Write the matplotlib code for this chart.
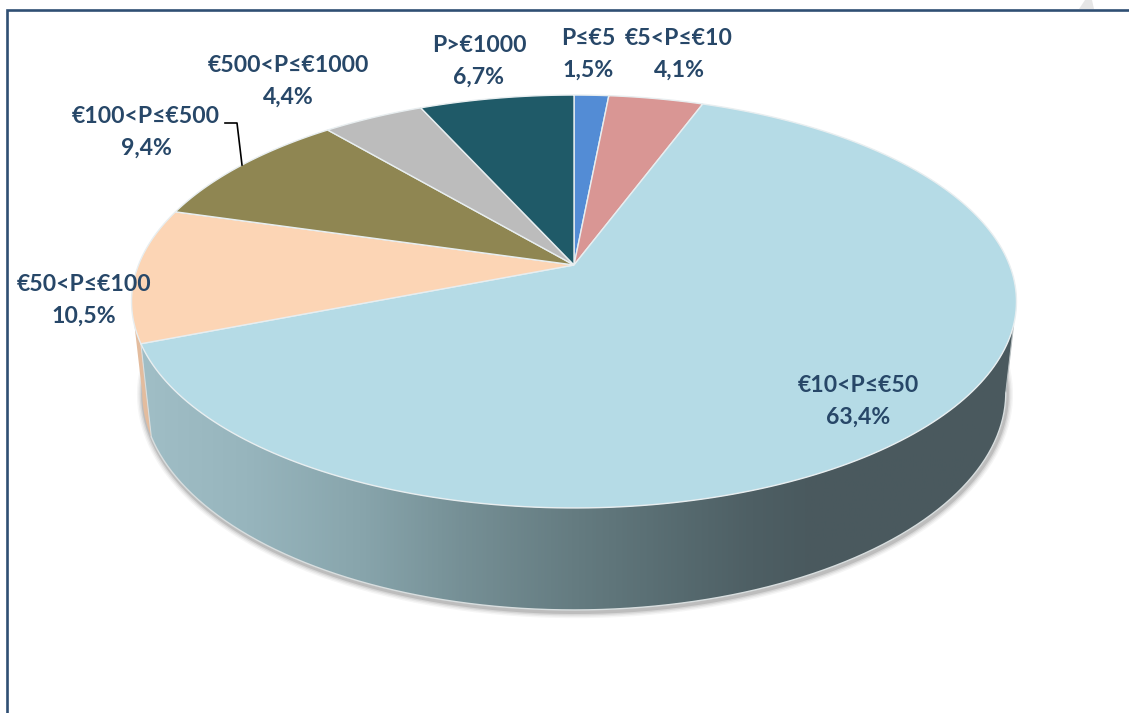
import numpy as np
import matplotlib
matplotlib.use("Agg")
import matplotlib.pyplot as plt
from matplotlib.colors import LinearSegmentedColormap
from matplotlib.patches import Polygon

plt.rcParams['font.family'] = ['Lato', 'DejaVu Sans']

# data, clockwise from twelve o'clock
labels = ['P≤€5', '€5<P≤€10', '€10<P≤€50', '€50<P≤€100', '€100<P≤€500', '€500<P≤€1000', 'P>€1000']
values = [1.5, 4.1, 63.4, 10.5, 9.4, 4.4, 6.7]
colors = ['#538CD5', '#D99694', '#B5DBE6', '#FCD5B5', '#8F8652', '#BCBCBC', '#1F5A68']
label_x = [588, 679, 858, 84, 146, 288, 479]
label_y = [54, 54, 401, 300, 132, 81, 61]

TEXT_COLOR = '#274768'
EDGE = '#E8EEF0'

# perspective parameters of the top face and of the bottom face, in pixels
CX = 574
K = 0.1768
TOP = dict(y0=265, a=435.5, b=200.0)
BOTTOM = dict(y0=354, a=425.0, b=210.7)


def project(theta, face):
    """ Точка окружности (угол в градусах от верха по часовой) на экран. """
    t = np.radians(theta)
    u, v = np.sin(t), -np.cos(t)
    w = 1 - K * v
    return CX + face['a'] * u / w, face['y0'] + face['b'] * v / w


def arc(start, end, face, n=200):
    x, y = project(np.linspace(start, end, n), face)
    return np.column_stack([x, y])


fig = plt.figure(figsize=(11.29, 7.13), dpi=100)
ax = fig.add_axes([0, 0, 1, 1])
ax.set_xlim(0, 1129)
ax.set_ylim(713, 0)
ax.axis('off')

# frame and the bit of watermark in the corner
ax.plot([7, 7, 1129], [713, 10, 10], color='#2F4F73', lw=1.9, solid_joinstyle='miter', zorder=1)
ax.add_patch(Polygon([[1079, 9], [1085, 0], [1092, 0], [1094, 9]], fc='#E6E6E6', ec='none', zorder=1))

angles = np.cumsum([0] + values) / np.sum(values) * 360
blue_start, blue_end = angles[2], angles[3]

# shadow under the body
sil_right = np.degrees(np.arccos(-K))
sil_left = 360 - sil_right
rim = arc(sil_right - 8, sil_left + 8, BOTTOM)
for lw, al in zip([9, 7, 5, 3], [0.05, 0.07, 0.10, 0.16]):
    ax.plot(rim[:, 0] + 1, rim[:, 1] + 2, color='#404040', lw=lw, alpha=al, zorder=2)

# side wall of the big slice, with gradient
top_right = 106.6
top_left = 253.4
side = np.vstack([arc(top_right, blue_end, TOP), arc(blue_end, sil_right, BOTTOM)])
patch = Polygon(side, closed=True, fc='none', ec='none', zorder=3)
ax.add_patch(patch)
cmap = LinearSegmentedColormap.from_list('side', [
    (0.0, '#A0BEC6'), (0.12, '#97B5BD'), (0.25, '#88A5AC'), (0.37, '#758F95'),
    (0.5, '#647B80'), (0.62, '#566A6F'), (0.70, '#4E5F64'), (0.76, '#4A5A5F'), (1.0, '#4A595E')])
im = ax.imshow(np.linspace(0, 1, 512).reshape(1, -1), cmap=cmap, aspect='auto',
               extent=[141, 1016, 620, 300], zorder=3)
im.set_clip_path(patch)
ax.set_xlim(0, 1129)
ax.set_ylim(713, 0)

# peach sliver of side wall on the left
sliver = np.vstack([arc(blue_end, top_left, TOP), arc(sil_left, blue_end, BOTTOM)])
ax.add_patch(Polygon(sliver, closed=True, fc='#E3BC9E', ec='none', zorder=3))

# light edges of the body
edge = arc(blue_end, sil_right, BOTTOM)
ax.plot(edge[:, 0], edge[:, 1], color='#D8DEDF', lw=1.0, zorder=4)
ax.plot([project(top_right, TOP)[0], project(sil_right, BOTTOM)[0]],
        [project(top_right, TOP)[1], project(sil_right, BOTTOM)[1]], color='#B9C0C2', lw=0.8, zorder=4)
ax.plot([project(blue_end, TOP)[0], project(blue_end, BOTTOM)[0]],
        [project(blue_end, TOP)[1], project(blue_end, BOTTOM)[1]], color='#D8DEDF', lw=0.8, zorder=4)

# top face
for i, c in enumerate(colors):
    pts = np.vstack([[CX, TOP['y0']], arc(angles[i], angles[i + 1], TOP)])
    ax.add_patch(Polygon(pts, closed=True, fc=c, ec=EDGE, lw=1.0, zorder=5))

# leader line of the 9,4% label
ax.plot([225, 237, 242], [123, 123, 165], color='black', lw=1.2, zorder=6)

for name, val, x, y in zip(labels, values, label_x, label_y):
    pct = f'{val:.1f}'.replace('.', ',') + '%'
    ax.text(x, y, f'{name}\n{pct}', ha='center', va='center', fontsize=16.6,
            fontweight='bold', color=TEXT_COLOR, linespacing=1.64, zorder=7)

fig.savefig('out.png', dpi=100)
